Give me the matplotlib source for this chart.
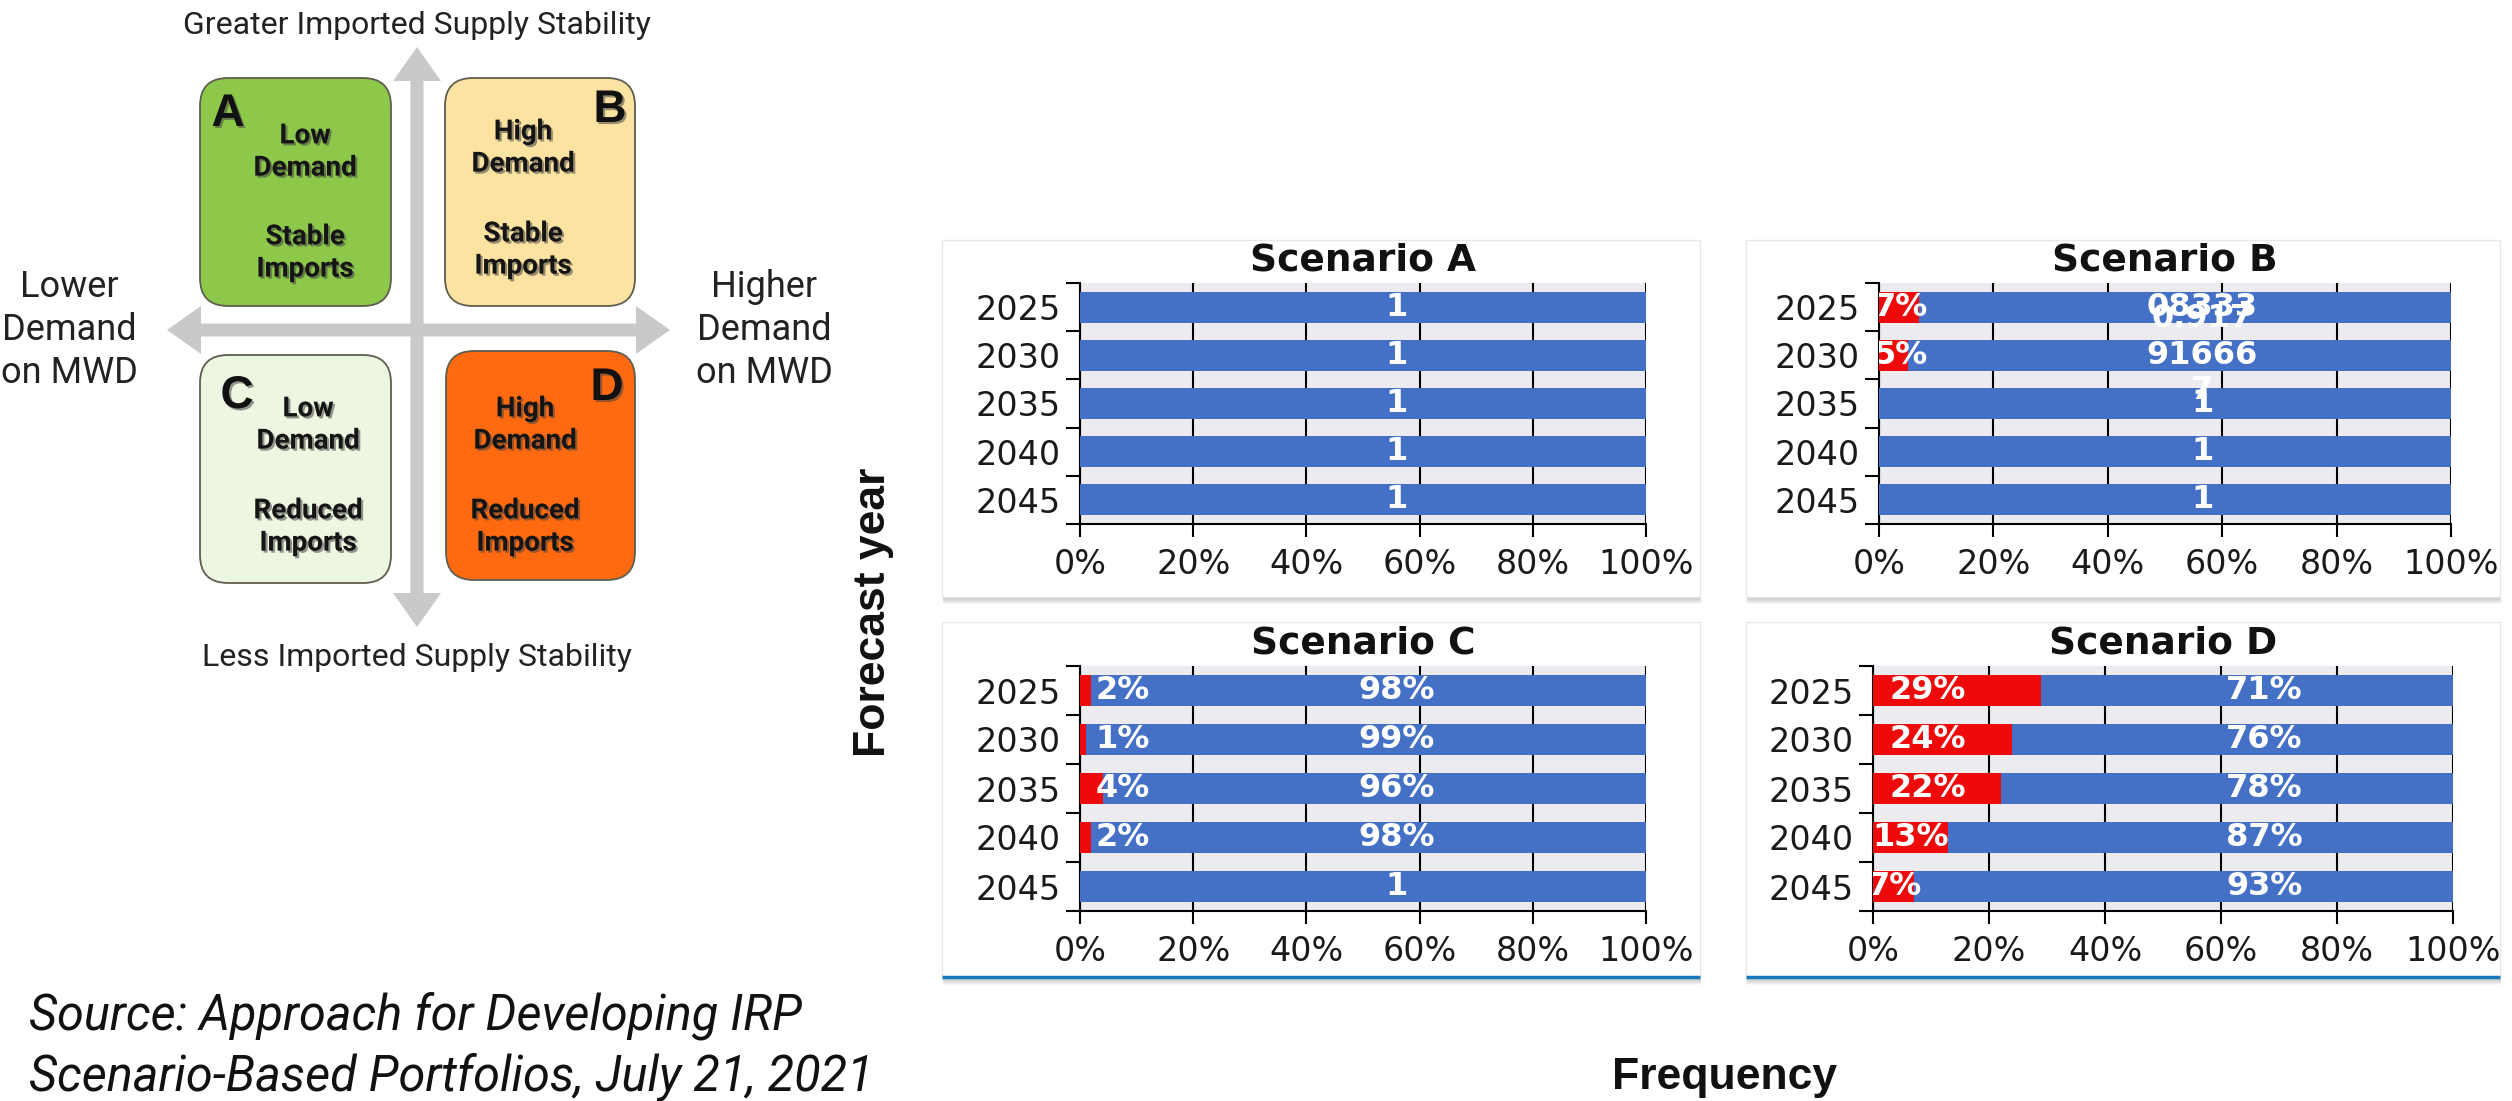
import matplotlib
matplotlib.use('Agg')
import matplotlib.pyplot as plt
import numpy as np
from matplotlib.patches import FancyBboxPatch, Rectangle, FancyArrow
import matplotlib.patheffects as pe
from matplotlib import font_manager
from matplotlib.transforms import offset_copy

# ---------------------------------------------------------------- data
years = ['2025', '2030', '2035', '2040', '2045']
xticks = [0, 20, 40, 60, 80, 100]

# share of years with a shortage (red) per forecast year, in percent
red_a = [0, 0, 0, 0, 0]
red_b = [7, 5, 0, 0, 0]
red_c = [2, 1, 4, 2, 0]
red_d = [29, 24, 22, 13, 7]

# labels printed on the blue (no shortage) segment
blue_labels_a = ['1', '1', '1', '1', '1']
blue_labels_b = ['08333', '91666', '1', '1', '1']
blue_labels_c = ['98%', '99%', '96%', '98%', '1']
blue_labels_d = ['71%', '76%', '78%', '87%', '93%']

# overlapping leftover labels in scenario B (text, row position)
stray_labels_b = [('0.917', 0.24), ('7', 1.72)]

quad_letters = ['A', 'B', 'C', 'D']
quad_demand = ['Low\nDemand', 'High\nDemand', 'Low\nDemand', 'High\nDemand']
quad_imports = ['Stable\nImports', 'Stable\nImports', 'Reduced\nImports', 'Reduced\nImports']

# ---------------------------------------------------------------- fonts
def pick(*names):
    for n in names:
        try:
            font_manager.findfont(font_manager.FontProperties(family=n),
                                  fallback_to_default=False)
            return n
        except Exception:
            pass
    return 'DejaVu Sans'

ROBOTO = pick('Roboto', 'DejaVu Sans')
ARIAL = pick('Liberation Sans', 'DejaVu Sans')
CHART = 'DejaVu Sans'

BLUE = '#4470C6'
RED = '#EE0A0A'
W, H = 2512, 1101

fig = plt.figure(figsize=(W / 100, H / 100), dpi=100)
bg = fig.add_axes([0, 0, 1, 1])
bg.set_xlim(0, W)
bg.set_ylim(H, 0)
bg.axis('off')


def px_axes(l, t, r, b):
    return fig.add_axes([l / W, 1 - b / H, (r - l) / W, (b - t) / H])


# ---------------------------------------------------------------- quadrant diagram
ARROW = '#C9C9C9'
cx, cy = 417, 330
for tip in [(417, 47), (417, 627)]:
    bg.add_patch(FancyArrow(cx, cy, 0, tip[1] - cy, width=13, head_width=48,
                            head_length=34, length_includes_head=True,
                            color=ARROW, lw=0, zorder=1))
for tip in [(167, 330), (670, 330)]:
    bg.add_patch(FancyArrow(cx, cy, tip[0] - cx, 0, width=13, head_width=48,
                            head_length=34, length_includes_head=True,
                            color=ARROW, lw=0, zorder=1))

boxes = [(200, 78, 391, 306), (445, 78, 635, 306),
         (200, 355, 391, 583), (446, 351, 635, 580)]
box_colors = ['#8DC84B', '#FDE3A2', '#EDF6E0', '#FF6A10']
letter_pos = [(228, 114), (610, 110), (237, 396), (607, 388)]
text_x = [305, 523, 308, 525]
demand_y = [152, 148, 425, 425]
imports_y = [253, 250, 527, 527]

shadow = [pe.SimplePatchShadow(offset=(1.5, -1.5), shadow_rgbFace='#444444', alpha=0.55),
          pe.Normal()]
for i, (x0, y0, x1, y1) in enumerate(boxes):
    bg.add_patch(FancyBboxPatch((x0 + 28, y0 + 28), x1 - x0 - 56, y1 - y0 - 56,
                                boxstyle='round,pad=28', fc=box_colors[i],
                                ec='#5E5E50', lw=1.3, zorder=2))
    bg.text(*letter_pos[i], quad_letters[i], fontsize=33, fontweight='bold',
            family=ARIAL, ha='center', va='center', color='#111111',
            path_effects=shadow, zorder=3)
    bg.text(text_x[i], demand_y[i], quad_demand[i], fontsize=20, fontweight='bold',
            family=ROBOTO, ha='center', va='center', color='#151515',
            linespacing=1.25, path_effects=shadow, zorder=3)
    bg.text(text_x[i], imports_y[i], quad_imports[i], fontsize=20, fontweight='bold',
            family=ROBOTO, ha='center', va='center', color='#151515',
            linespacing=1.25, path_effects=shadow, zorder=3)

side_kw = dict(family=ROBOTO, color='#222222', ha='center', va='center')
bg.text(417, 25, 'Greater Imported Supply Stability', fontsize=23, **side_kw)
bg.text(417, 658, 'Less Imported Supply Stability', fontsize=23, **side_kw)
bg.text(69, 330, 'Lower\nDemand\non MWD', fontsize=26, linespacing=1.25, **side_kw)
bg.text(764, 330, 'Higher\nDemand\non MWD', fontsize=26, linespacing=1.25, **side_kw)

bg.text(29, 1016, 'Source: Approach for Developing IRP', fontsize=35,
        style='italic', family=ROBOTO, color='#111111', ha='left', va='center')
bg.text(29, 1077, 'Scenario-Based Portfolios, July 21, 2021', fontsize=35,
        style='italic', family=ROBOTO, color='#111111', ha='left', va='center')

bg.text(874, 612, 'Forecast year', fontsize=32, fontweight='bold', family=ARIAL,
        rotation=90, ha='center', va='center', color='#111111')
bg.text(1725, 1077, 'Frequency', fontsize=32, fontweight='bold', family=ARIAL,
        ha='center', va='center', color='#111111')

# ---------------------------------------------------------------- panel cards
cards = [(942, 240, 1700, 597), (1746, 240, 2500, 597),
         (942, 622, 1700, 978), (1746, 622, 2500, 978)]
for k, (x0, y0, x1, y1) in enumerate(cards):
    for s in range(1, 8):
        bg.add_patch(Rectangle((x0 + 1, y0 + s), x1 - x0, y1 - y0,
                               fc='black', alpha=0.035, lw=0, zorder=0))
    bg.add_patch(Rectangle((x0, y0), x1 - x0, y1 - y0, fc='white',
                           ec='#E8E8E8', lw=1, zorder=0.5))
    if k >= 2:
        bg.plot([x0, x1], [y1 - 1, y1 - 1], color='#1A78BE', lw=2.5,
                solid_capstyle='butt', zorder=0.6)

# ---------------------------------------------------------------- bar panels
panels = [
    ('Scenario A', red_a, blue_labels_a, (1080, 283, 1646, 524), 56.0, []),
    ('Scenario B', red_b, blue_labels_b, (1879, 283, 2451, 524), 56.5, stray_labels_b),
    ('Scenario C', red_c, blue_labels_c, (1080, 666, 1646, 911), 56.0, []),
    ('Scenario D', red_d, blue_labels_d, (1873, 666, 2453, 911), 67.5, []),
]

ypos = np.arange(len(years))
for title, red, blue_labels, box, blue_x, stray in panels:
    ax = px_axes(*box)
    red = np.asarray(red, dtype=float)
    blue = 100 - red
    ax.set_facecolor('#ECECF0')
    ax.barh(ypos, red, height=0.64, color=RED, zorder=3)
    ax.barh(ypos, blue, left=red, height=0.64, color=BLUE, zorder=3)
    ax.set_xlim(0, 100)
    ax.set_ylim(len(years) - 0.5, -0.5)
    ax.set_xticks(xticks)
    ax.set_xticklabels([f'{v}%' for v in xticks], family=CHART, fontsize=24,
                       color='#1a1a1a')
    ax.set_yticks(ypos)
    ax.set_yticklabels(years, family=CHART, fontsize=24, color='#1a1a1a')
    ax.set_yticks(np.arange(-0.5, len(years), 1.0), minor=True)
    ax.tick_params(axis='y', which='major', length=0, pad=14)
    ax.tick_params(axis='y', which='minor', length=10, width=1.5, direction='out')
    ax.tick_params(axis='x', length=9, width=1.5, pad=8)
    ax.grid(axis='x', color='black', lw=1.5, zorder=1)
    ax.set_axisbelow(True)
    for side in ['top', 'right']:
        ax.spines[side].set_visible(False)
    for side in ['left', 'bottom']:
        ax.spines[side].set_linewidth(1.5)
        ax.spines[side].set_color('black')
    ax.text(0.5, 1.0, title, transform=offset_copy(ax.transAxes, fig=fig, y=22, units='dots'),
            ha='center', va='center', fontsize=27, fontweight='bold', family=CHART,
            color='#111111')
    lab_kw = dict(ha='center', va='center', fontsize=23, fontweight='bold',
                  family=CHART, color='white', zorder=5, clip_on=True)
    for i, v in enumerate(red):
        if v > 0:
            x = 7.5 if v < 5 else min(max(v / 2, 3.8), 9.4)
            ax.text(x, i, f'{v:.0f}%', **lab_kw)
        ax.text(blue_x, i, blue_labels[i], **lab_kw)
    for txt, yy in stray:
        ax.text(blue_x, yy, txt, **lab_kw)

fig.savefig('out.png', dpi=100, facecolor='white')
